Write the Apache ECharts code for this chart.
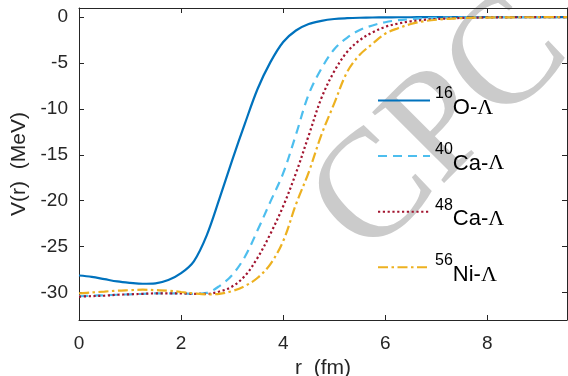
<!DOCTYPE html>
<html>
<head>
<meta charset="utf-8">
<script src="https://cdn.jsdelivr.net/npm/echarts@6/dist/echarts.min.js"></script>
<style>
  html, body { margin: 0; padding: 0; background: #fff; }
  #chart { width: 568px; height: 376px; }
</style>
</head>
<body>
<div id="chart"></div>
<script>
// Radial grid (fm)
const rGrid = [0, 0.25, 0.5, 0.75, 1, 1.25, 1.5, 1.75, 2, 2.25, 2.5, 2.75, 3, 3.25, 3.5, 3.75,
  4, 4.25, 4.5, 4.75, 5, 5.25, 5.5, 5.75, 6, 6.25, 6.5, 6.75, 7, 7.5, 8, 8.5, 9, 9.56];

// Lambda-nucleus potentials V(r) in MeV
const vO16 = [-28.15, -28.3, -28.55, -28.8, -28.95, -29.05, -29.0, -28.65, -27.9, -26.6, -23.8, -19.8,
  -15.6, -11.6, -7.8, -4.9, -2.7, -1.45, -0.75, -0.4, -0.2, -0.11, -0.06, -0.035, -0.02, -0.01,
  -0.006, -0.003, -0.002, 0, 0, 0, 0, 0];
const vCa40 = [-30.4, -30.35, -30.3, -30.25, -30.2, -30.15, -30.1, -30.1, -30.1, -30.15, -30.05, -29.3,
  -28.1, -26.1, -23.2, -20.1, -17.0, -12.8, -8.4, -5.6, -3.5, -2.25, -1.4, -0.9, -0.55, -0.33,
  -0.2, -0.12, -0.07, -0.03, -0.01, 0, 0, 0];
const vCa48 = [-30.45, -30.4, -30.35, -30.25, -30.2, -30.15, -30.1, -30.1, -30.1, -30.15, -30.15, -29.9,
  -29.35, -28.2, -26.2, -23.6, -20.6, -17.0, -12.9, -8.8, -5.9, -3.8, -2.5, -1.65, -1.05, -0.7,
  -0.45, -0.3, -0.2, -0.08, -0.03, -0.01, 0, 0];
const vNi56 = [-30.1, -30.0, -29.9, -29.8, -29.75, -29.7, -29.75, -29.8, -29.95, -30.1, -30.2, -30.15,
  -29.85, -29.3, -28.4, -26.9, -24.4, -20.4, -16.9, -12.8, -9.4, -6.0, -4.1, -2.9, -1.8, -1.2,
  -0.75, -0.45, -0.28, -0.1, -0.04, -0.015, -0.005, 0];

// Legend pieces: mass number, element, hyperon
const massNumbers = ['16', '40', '48', '56'];
const elements = ['O', 'Ca', 'Ca', 'Ni'];
const seriesNames = massNumbers.map((a, i) => a + elements[i] + '-Λ');

const xTicks = [0, 2, 4, 6, 8];
const yTicks = [0, -5, -10, -15, -20, -25, -30];

const axisColor = '#262626';
const font = 'Liberation Sans, Arial, Helvetica, sans-serif';
const serif = 'Liberation Serif, Times New Roman, serif';

function pairs(v) { return rGrid.map((r, i) => [r, v[i]]); }

const lineDefs = [
  { v: vO16,  color: '#0072BD', type: 'solid' },
  { v: vCa40, color: '#4DBEEE', type: [9, 6] },
  { v: vCa48, color: '#A2142F', type: [2.2, 2.6] },
  { v: vNi56, color: '#EDB120', type: [10, 3.5, 2.5, 3.5] }
];

const chart = echarts.init(document.getElementById('chart'), null, { renderer: 'canvas' });

const commonX = { type: 'value', min: 0, max: 9.56, splitLine: { show: false } };
const commonY = { type: 'value', min: -33, max: 1, splitLine: { show: false } };
const lineStyleAxis = { color: axisColor, width: 1 };

chart.setOption({
  animation: false,
  backgroundColor: '#fff',
  grid: { left: 79, right: 1, top: 8, bottom: 56, containLabel: false, outerBoundsMode: 'none' },
  graphic: [{
    type: 'text',
    z: 0,
    x: 442,
    y: 128,
    rotation: Math.PI / 4,
    silent: true,
    style: {
      text: 'CPC',
      fill: '#cbcbcb',
      fontFamily: serif,
      fontSize: 154,
      align: 'center',
      verticalAlign: 'middle'
    }
  }],
  legend: {
    orient: 'vertical',
    left: 377,
    top: 82,
    padding: 0,
    itemWidth: 52,
    itemHeight: 14,
    itemGap: 18.6,
    itemStyle: { opacity: 0 },
    data: seriesNames,
    formatter: function (name) {
      const i = seriesNames.indexOf(name);
      return '{sup|' + massNumbers[i] + '}{el|' + elements[i] + '-}{lam|Λ}{gap| }';
    },
    textStyle: {
      color: '#000',
      rich: {
        sup: { fontSize: 16, fontFamily: font, color: '#000', verticalAlign: 'top', lineHeight: 16, padding: [4, 0, 0, 0] },
        el: { fontSize: 22, fontFamily: font, color: '#000', verticalAlign: 'bottom', lineHeight: 26 },
        lam: { fontSize: 22, fontFamily: serif, color: '#000', verticalAlign: 'bottom', lineHeight: 26 },
        gap: { fontSize: 2, lineHeight: 37, verticalAlign: 'middle' }
      }
    }
  },
  xAxis: [
    Object.assign({}, commonX, {
      position: 'bottom',
      axisLine: { show: true, onZero: false, lineStyle: lineStyleAxis },
      axisTick: { show: true, inside: true, length: 5, customValues: xTicks, lineStyle: lineStyleAxis },
      axisLabel: { show: true, customValues: xTicks, fontSize: 19, color: axisColor, fontFamily: font, margin: 14 },
      name: 'r  (fm)',
      nameLocation: 'middle',
      nameGap: 32,
      nameTextStyle: { fontSize: 21, color: axisColor, fontFamily: font }
    }),
    Object.assign({}, commonX, {
      position: 'top',
      axisLine: { show: true, onZero: false, lineStyle: lineStyleAxis },
      axisTick: { show: true, inside: true, length: 5, customValues: xTicks, lineStyle: lineStyleAxis },
      axisLabel: { show: false }
    })
  ],
  yAxis: [
    Object.assign({}, commonY, {
      position: 'left',
      axisLine: { show: true, onZero: false, lineStyle: lineStyleAxis },
      axisTick: { show: true, inside: true, length: 5, customValues: yTicks, lineStyle: lineStyleAxis },
      axisLabel: { show: true, customValues: yTicks, fontSize: 19, color: axisColor, fontFamily: font, margin: 11 },
      name: 'V(r)  (MeV)',
      nameLocation: 'middle',
      nameRotate: 90,
      nameGap: 47,
      nameTextStyle: { fontSize: 21, color: axisColor, fontFamily: font }
    }),
    Object.assign({}, commonY, {
      position: 'right',
      axisLine: { show: true, onZero: false, lineStyle: lineStyleAxis },
      axisTick: { show: true, inside: true, length: 5, customValues: yTicks, lineStyle: lineStyleAxis },
      axisLabel: { show: false }
    })
  ],
  series: lineDefs.map((d, i) => ({
    name: seriesNames[i],
    type: 'line',
    xAxisIndex: 0,
    yAxisIndex: 0,
    data: pairs(d.v),
    symbol: 'none',
    smooth: 0.35,
    clip: true,
    lineStyle: { color: d.color, width: 2.2, type: d.type },
    itemStyle: { color: d.color },
    z: 3
  }))
});
</script>
</body>
</html>
